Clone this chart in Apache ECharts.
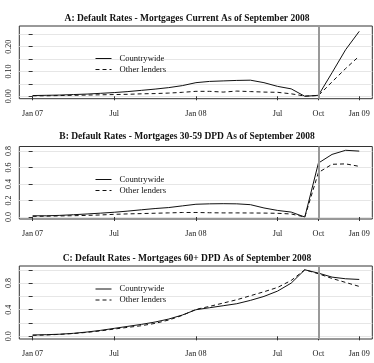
<!DOCTYPE html>
<html>
<head>
<meta charset="utf-8">
<script src="https://cdn.jsdelivr.net/npm/echarts@6/dist/echarts.min.js"></script>
<style>
  html, body { margin: 0; padding: 0; background: #fff; }
  #chart { width: 374px; height: 363px; }
</style>
</head>
<body>
<div id="chart"></div>
<script>
// months Jan 07 .. Jan 09, one point per month
const months = ['Jan 07', 'Feb 07', 'Mar 07', 'Apr 07', 'May 07', 'Jun 07', 'Jul 07', 'Aug 07', 'Sep 07', 'Oct 07', 'Nov 07', 'Dec 07',
  'Jan 08', 'Feb 08', 'Mar 08', 'Apr 08', 'May 08', 'Jun 08', 'Jul 08', 'Aug 08', 'Sep 08', 'Oct 08', 'Nov 08', 'Dec 08', 'Jan 09']
const xTickPos = [0, 6, 12, 18, 21, 24]
const xTickLabels = ['Jan 07', 'Jul', 'Jan 08', 'Jul', 'Oct', 'Jan 09']
const markMonth = 21 // Oct 08

const titles = [
  'A: Default Rates - Mortgages Current As of September 2008',
  'B: Default Rates - Mortgages 30-59 DPD As of September 2008',
  'C: Default Rates - Mortgages 60+ DPD As of September 2008'
]
const seriesNames = ['Countrywide', 'Other lenders']

// panel A - current
const aCountry = [0.003, 0.004, 0.005, 0.007, 0.009, 0.012, 0.015, 0.019, 0.024, 0.029, 0.035, 0.043,
  0.055, 0.060, 0.062, 0.064, 0.065, 0.055, 0.040, 0.030, 0.000, 0.004, 0.095, 0.188, 0.262]
const aOther = [0.002, 0.002, 0.003, 0.004, 0.005, 0.006, 0.007, 0.008, 0.010, 0.011, 0.013, 0.016,
  0.020, 0.020, 0.017, 0.021, 0.019, 0.017, 0.016, 0.010, 0.001, 0.003, 0.058, 0.112, 0.162]
const aTicks = [0, 0.05, 0.10, 0.15, 0.20, 0.25]
const aLabels = [0, 0.10, 0.20]

// panel B - 30-59 DPD
const bCountry = [0.015, 0.015, 0.020, 0.028, 0.037, 0.047, 0.058, 0.072, 0.088, 0.103, 0.115, 0.135,
  0.155, 0.160, 0.162, 0.160, 0.150, 0.110, 0.080, 0.060, 0.000, 0.655, 0.760, 0.810, 0.800]
const bOther = [0.008, 0.010, 0.013, 0.016, 0.020, 0.025, 0.033, 0.038, 0.042, 0.046, 0.050, 0.055,
  0.055, 0.052, 0.050, 0.050, 0.049, 0.048, 0.045, 0.037, 0.000, 0.540, 0.640, 0.645, 0.615]
const bTicks = [0, 0.2, 0.4, 0.6, 0.8]
const bLabels = [0, 0.2, 0.4, 0.6, 0.8]

// panel C - 60+ DPD
const cCountry = [0.020, 0.025, 0.032, 0.045, 0.065, 0.090, 0.120, 0.150, 0.180, 0.215, 0.260, 0.320,
  0.400, 0.430, 0.460, 0.490, 0.540, 0.600, 0.680, 0.800, 1.000, 0.950, 0.890, 0.865, 0.855]
const cOther = [0.015, 0.020, 0.030, 0.042, 0.060, 0.082, 0.110, 0.135, 0.160, 0.195, 0.245, 0.315,
  0.405, 0.450, 0.500, 0.550, 0.610, 0.670, 0.735, 0.840, 1.000, 0.940, 0.870, 0.810, 0.750]
const cTicks = [0, 0.2, 0.4, 0.6, 0.8, 1.0]
const cLabels = [0, 0.4, 0.8]

const panels = [
  { top: 26, height: 72.7, min: -0.0097, max: 0.2835, ticks: aTicks, labels: aLabels, digits: 2, lines: [aCountry, aOther], titleTop: 13.5, legendTop: 53.5 },
  { top: 146.5, height: 72.5, min: -0.024, max: 0.856, ticks: bTicks, labels: bLabels, digits: 1, lines: [bCountry, bOther], titleTop: 132, legendTop: 174.5 },
  { top: 266, height: 73, min: -0.04, max: 1.057, ticks: cTicks, labels: cLabels, digits: 1, lines: [cCountry, cOther], titleTop: 254, legendTop: 284 }
]

const font = 'Liberation Serif'
const chart = echarts.init(document.getElementById('chart'), null, { renderer: 'canvas' })

const grid = []
const xAxis = []
const yAxis = []
const title = []
const legend = []
const series = []

panels.forEach((p, i) => {
  grid.push({
    left: 19.3, right: 1.7, top: p.top, height: p.height,
    show: true, borderColor: '#333', borderWidth: 1, backgroundColor: 'transparent'
  })
  xAxis.push({
    type: 'value', gridIndex: i, min: -0.98, max: 24.96,
    axisLine: { show: false },
    axisTick: { show: true, length: 4, customValues: xTickPos, lineStyle: { color: '#333' } },
    axisLabel: {
      customValues: xTickPos, margin: 11,
      fontFamily: font, fontSize: 8.2, color: '#222',
      formatter: v => xTickLabels[xTickPos.indexOf(Math.round(v))]
    },
    splitLine: { show: false }
  })
  yAxis.push({
    type: 'value', gridIndex: i, min: p.min, max: p.max,
    axisLine: { show: false },
    axisTick: { show: true, length: 4, customValues: p.ticks, lineStyle: { color: '#333' } },
    axisLabel: {
      customValues: p.labels, rotate: 90, margin: 6,
      fontFamily: font, fontSize: 8, color: '#222',
      formatter: v => v.toFixed(p.digits)
    },
    splitLine: { show: true, lineStyle: { color: '#e6e6e6', width: 1 } }
  })
  title.push({
    text: titles[i], left: 'center', top: p.titleTop, padding: 0,
    textStyle: { fontFamily: font, fontWeight: 'bold', fontSize: 9.5, color: '#111' }
  })
  legend.push({
    data: seriesNames, orient: 'vertical', left: 95, top: p.legendTop,
    itemWidth: 16, itemHeight: 10, itemGap: 1, padding: 0,
    selectedMode: false,
    itemStyle: { color: 'rgba(0,0,0,0)', borderWidth: 0, opacity: 0 },
    lineStyle: { width: 1 },
    textStyle: { fontFamily: font, fontSize: 8.6, color: '#111', lineHeight: 10, padding: [0, 0, 0, 3] }
  })
  p.lines.forEach((vals, k) => {
    const s = {
      name: seriesNames[k], type: 'line', xAxisIndex: i, yAxisIndex: i,
      symbol: 'none', animation: false,
      lineStyle: { color: '#111', width: 1, type: k === 0 ? 'solid' : [4, 3] },
      itemStyle: { color: '#111' },
      data: vals.map((v, m) => [m, v])
    }
    if (k === 0) {
      s.markLine = {
        silent: true, symbol: 'none', animation: false,
        label: { show: false },
        lineStyle: { color: '#999', width: 2, type: 'solid' },
        data: [{ xAxis: markMonth }]
      }
    }
    series.push(s)
  })
})

chart.setOption({
  backgroundColor: '#fff',
  animation: false,
  title: title,
  legend: legend,
  grid: grid,
  xAxis: xAxis,
  yAxis: yAxis,
  series: series
})
</script>
</body>
</html>
